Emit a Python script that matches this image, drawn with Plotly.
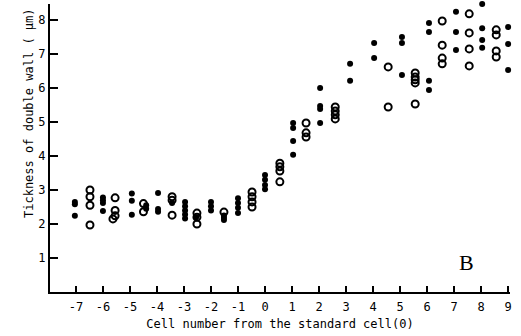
import plotly.graph_objects as go

# Filled circles (cell position, wall thickness in µm)
filled_x = [-7.04, -7.04, -7.04,
            -6.0, -6.0, -6.0, -6.0,
            -4.93, -4.93, -4.93,
            -4.4, -4.4,
            -3.96, -3.96, -3.96,
            -3.44,
            -2.96, -2.96, -2.96, -2.96, -2.96,
            -2.55,
            -2.0, -2.0, -2.0,
            -1.52, -1.52, -1.52,
            -1.0, -1.0, -1.0, -1.0,
            0.0, 0.0, 0.0, 0.0,
            1.04, 1.04, 1.04, 1.04,
            2.04, 2.04, 2.04, 2.04,
            3.15, 3.15,
            4.04, 4.04,
            5.07, 5.07, 5.07,
            6.07, 6.07, 6.07, 6.07,
            7.07, 7.07, 7.07, 7.07,
            8.04, 8.04, 8.04, 8.04,
            9.0, 9.0, 9.0]
filled_y = [2.65, 2.58, 2.24,
            2.78, 2.7, 2.62, 2.38,
            2.9, 2.68, 2.27,
            2.55, 2.45,
            2.91, 2.44, 2.36,
            2.62,
            2.65, 2.52, 2.4, 2.28, 2.16,
            2.2,
            2.65, 2.52, 2.4,
            2.25, 2.18, 2.12,
            2.76, 2.62, 2.48, 2.32,
            3.44, 3.3, 3.15, 3.02,
            4.97, 4.82, 4.44, 4.04,
            6.0, 5.47, 5.38, 4.97,
            6.71, 6.21,
            7.32, 6.88,
            7.5, 7.32, 6.38,
            7.91, 7.65, 6.21, 5.94,
            8.5, 8.24, 7.65, 7.12,
            8.47, 7.76, 7.41, 7.18,
            7.79, 7.29, 6.53]

# Open circles
open_x = [-6.48, -6.48, -6.48, -6.48,
          -5.55, -5.55, -5.55, -5.63,
          -4.5, -4.5,
          -3.44, -3.44, -3.44,
          -2.52, -2.52, -2.52,
          -1.52,
          -0.48, -0.48, -0.48, -0.48,
          0.55, 0.55, 0.55, 0.55,
          1.52, 1.52, 1.52,
          2.6, 2.6, 2.6, 2.6,
          4.56, 4.56,
          5.56, 5.56, 5.56, 5.56, 5.56,
          6.56, 6.56, 6.56, 6.56,
          7.56, 7.56, 7.56, 7.56,
          8.56, 8.56, 8.56, 8.56]
open_y = [3.0, 2.8, 2.55, 1.97,
          2.77, 2.4, 2.24, 2.15,
          2.6, 2.36,
          2.8, 2.7, 2.26,
          2.32, 2.2, 2.0,
          2.35,
          2.94, 2.8, 2.65, 2.5,
          3.79, 3.68, 3.56, 3.24,
          4.97, 4.68, 4.56,
          5.44, 5.32, 5.21, 5.09,
          6.62, 5.44,
          6.44, 6.32, 6.24, 6.15, 5.53,
          7.97, 7.26, 6.88, 6.71,
          8.18, 7.62, 7.15, 6.65,
          7.71, 7.56, 7.09, 6.91]

x_ticks = list(range(-7, 10))
x_ticklabels = [str(v) for v in x_ticks]
y_ticks = [1, 2, 3, 4, 5, 6, 7, 8]

MONO = "DejaVu Sans Mono"

fig = go.Figure()
fig.add_trace(go.Scatter(
    x=filled_x, y=filled_y, mode="markers",
    marker=dict(symbol="circle", size=6, color="black"),
    cliponaxis=False, showlegend=False))
fig.add_trace(go.Scatter(
    x=open_x, y=open_y, mode="markers",
    marker=dict(symbol="circle-open", size=7, color="black", line=dict(width=2)),
    cliponaxis=False, showlegend=False))

L, R, T, B = 50, 11, 4, 44
W, H = 521, 336
plot_w = W - L - R
plot_h = H - T - B

fig.update_layout(
    width=W, height=H,
    margin=dict(l=L, r=R, t=T, b=B, autoexpand=False),
    paper_bgcolor="white", plot_bgcolor="white",
    font=dict(family=MONO, size=12, color="black"),
    xaxis=dict(
        range=[-7.96, 9.07], tickvals=x_ticks, ticktext=x_ticklabels,
        ticks="inside", ticklen=6, tickwidth=1.5, tickcolor="black",
        showline=True, linecolor="black", linewidth=2,
        showgrid=False, zeroline=False, automargin=False,
        ticklabelstandoff=3,
        tickfont=dict(family=MONO, size=12),
        title=dict(text="Cell number from the standard cell(0)",
                   font=dict(family=MONO, size=12), standoff=6),
    ),
    yaxis=dict(
        range=[0, 8.47], tickvals=y_ticks,
        ticks="inside", ticklen=8, tickwidth=1.5, tickcolor="black",
        showline=True, linecolor="black", linewidth=2,
        showgrid=False, zeroline=False, automargin=False,
        tickfont=dict(family=MONO, size=12),
    ),
    annotations=[
        dict(text="Tickness of double wall ( μm)", textangle=-90,
             x=(20 - L) / plot_w, y=(292 - 113) / plot_h,
             xref="paper", yref="paper", showarrow=False,
             font=dict(family=MONO, size=12)),
        dict(text="B", x=7.45, y=0.88, xref="x", yref="y", showarrow=False,
             font=dict(family="Liberation Serif", size=22)),
    ],
)

fig.write_html("out.html", config={"displayModeBar": False},
               post_script="document.body.style.margin='0';")
